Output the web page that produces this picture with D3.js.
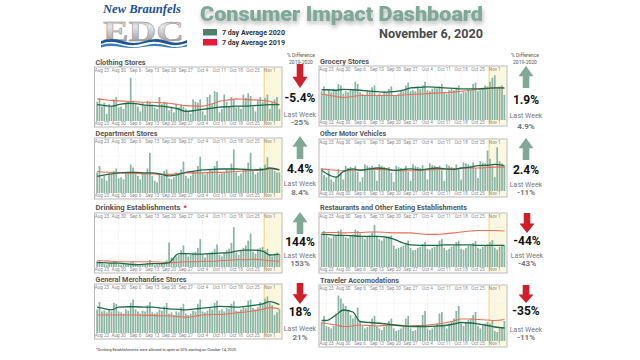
<!DOCTYPE html>
<html><head><meta charset="utf-8">
<script src="https://cdn.jsdelivr.net/npm/d3@7"></script>
<style>body{margin:0;background:#fff}svg{display:block}</style>
</head><body>
<svg id="c" width="640" height="360"></svg>
<script>
// ---------- DATA ----------
const tickLabels = ["Aug 23","Aug 30","Sep 6","Sep 13","Sep 20","Sep 27","Oct 4","Oct 11","Oct 18","Oct 25","Nov 1"];
const lineDates = ["Aug 21","Aug 23","Aug 27","Aug 30","Sep 3","Sep 6","Sep 10","Sep 13","Sep 17","Sep 20","Sep 24","Sep 27","Oct 1","Oct 4","Oct 8","Oct 11","Oct 15","Oct 18","Oct 22","Oct 25","Oct 29","Nov 1","Nov 5"];
const highlightStart = "Oct 30";

const panelNames = ["Clothing Stores","Department Stores","Drinking Establishments","General Merchandise Stores",
                    "Grocery Stores","Other Motor Vehicles","Restaurants and Other Eating Establishments","Traveler Accomodations"];
const diffLabels = ["-5.4%","4.4%","144%","18%","1.9%","2.4%","-44%","-35%"];
const lastWeekLabels = ["-25%","8.4%","153%","21%","4.9%","-11%","-43%","-11%"];
const diffUp = [false,true,true,false,true,true,false,false];

// daily values, Aug 21 .. Nov 5 (index of panel height)
const clothingBars = [40,48,30,38,15,35,30, 45,50,28,30,25,38,40, 90,42,35,30,20,38,32, 42,40,35,28,25,50,35,
  40,38,22,30,18,35,28, 35,30,25,20,15,45,40, 38,45,20,12,50,55,35, 62,60,18,25,55,40,30, 50,45,28,30,25,55,48,
  58,52,30,20,45,50,40, 48,55,25,40,45,50,25];
const departmentBars = [42,55,30,35,25,40,38, 45,50,30,32,28,40,42, 58,52,40,35,28,42,40, 50,82,35,25,22,38,36,
  45,48,30,28,32,42,40, 48,64,35,30,35,45,42, 55,74,40,38,42,48,45, 55,65,38,40,42,48,46, 60,89,42,35,40,50,48,
  62,82,45,38,42,52,50, 58,73,48,50,45,42,42];
const drinkingBars = [12,14,8,6,5,8,9, 12,10,6,5,7,6,8, 10,12,8,5,4,5,6, 8,15,6,4,5,6,7,
  10,14,51,20,18,22,25, 35,45,28,22,25,30,32, 40,58,25,20,28,30,32, 38,47,25,22,30,35,38, 50,83,30,25,35,40,45,
  55,70,32,28,38,40,42, 35,38,25,22,28,30,27];
const generalBars = [55,72,50,52,48,55,50, 70,68,50,48,45,55,52, 70,78,55,50,45,52,50, 65,72,48,45,48,55,52,
  62,70,45,48,42,50,48, 60,68,45,42,45,52,50, 68,78,50,48,52,58,55, 70,75,52,55,50,58,56, 68,74,52,50,55,60,58,
  75,78,58,55,60,72,68, 80,85,70,65,42,48,55];
const groceryBars = [60,70,55,62,58,65,62, 75,72,55,60,58,65,62, 80,75,58,55,52,62,60, 68,72,50,55,52,60,58,
  65,70,50,52,55,62,60, 72,78,60,62,60,70,65, 72,80,62,60,65,68,66, 70,75,58,55,62,65,62, 68,72,55,60,58,64,62,
  75,78,60,62,65,72,70, 80,88,93,65,70,72,52];
const motorBars = [50,35,30,45,25,20,30, 48,40,25,55,50,52,48, 55,42,20,30,58,55,52, 55,45,22,58,55,52,50,
  52,40,20,55,52,50,48, 55,42,22,58,54,52,50, 56,45,25,60,56,55,52, 55,45,22,58,55,52,50, 58,48,25,62,60,58,55,
  62,50,28,65,62,60,88, 70,55,30,95,65,60,55];
const restaurantBars = [70,75,68,62,60,65,66, 75,78,65,62,60,66,68, 78,75,70,62,58,64,66, 72,88,65,58,55,60,62,
  64,66,45,38,40,42,45, 50,55,40,35,36,40,42, 48,52,38,36,40,42,44, 55,58,40,35,38,42,45, 52,55,38,36,40,44,45,
  50,54,40,38,42,45,47, 52,56,40,36,42,44,45];
const travelerBars = [38,50,30,28,25,30,55, 91,85,75,70,60,52,45, 50,67,40,30,25,28,30, 45,50,30,25,22,28,30,
  40,45,25,20,22,25,28, 45,50,25,20,22,28,30, 52,60,25,22,25,30,35, 55,58,30,25,35,40,45, 60,70,35,30,38,42,45,
  52,58,30,25,32,35,38, 35,40,20,18,25,28,40];

// 7 day averages read at lineDates
const clothing2020 = [34,33,31,34,37,36,33,32,31,29,25,20,22,24,27,29,30,31,31,32,33,34,34];
const clothing2019 = [46,45,43,42,41,40,39,39,38,37,34,32,31,31,36,41,44,46,45,44,43,41,34];
const department2020 = [34,36,39,41,42,42,41,41,38,35,38,42,45,47,48,49,49,49,48,47,48,51,47];
const department2019 = [44,43,42,41,40,40,39,39,38,38,40,41,41,41,42,42,43,44,45,46,47,49,47];
const drinking2020 = [9,9,8,8,6,5,6,7,7,9,28,28,27,27,28,29,30,33,35,35,33,25,27];
const drinking2019 = [13,13,12,11,11,11,11,11,10,9,10,11,11,12,12,13,14,15,15,16,15,13,12];
const general2020 = [60,58,54,60,61,61,60,60,58,56,55,54,56,58,60,62,61,60,62,64,68,73,66];
const general2019 = [42,42,42,42,42,42,41,41,40,40,38,37,39,42,43,43,45,47,49,51,55,59,56];
const grocery2020 = [63,63,62,64,63,62,60,59,58,59,62,67,68,69,68,67,66,65,65,65,66,67,67];
const grocery2019 = [53,52,49,47,49,51,51,51,51,51,52,53,54,55,56,57,58,60,62,64,66,67,66];
const motor2020 = [45,38,30,42,48,45,48,50,48,45,47,48,46,48,50,48,47,50,52,55,56,58,55];
const motor2019 = [48,47,45,44,45,46,47,47,46,45,44,44,45,46,47,48,48,49,50,50,51,52,52];
const restaurant2020 = [68,68,66,66,65,64,64,64,62,58,50,46,45,45,45,46,46,46,46,45,45,45,45];
const restaurant2019 = [72,72,72,71,72,72,73,73,72,71,71,71,69,68,68,69,71,73,75,76,76,76,75];
const traveler2020 = [41,41,52,62,58,39,37,36,34,32,30,29,29,29,30,31,34,37,36,34,31,28,26];
const traveler2019 = [36,35,32,29,30,32,31,30,31,32,31,30,31,32,34,36,40,44,44,43,42,41,43];

const barSeries = [clothingBars,departmentBars,drinkingBars,generalBars,groceryBars,motorBars,restaurantBars,travelerBars];
const avg2020 = [clothing2020,department2020,drinking2020,general2020,grocery2020,motor2020,restaurant2020,traveler2020];
const avg2019 = [clothing2019,department2019,drinking2019,general2019,grocery2019,motor2019,restaurant2019,traveler2019];

// ---------- LAYOUT ----------
const layout = [
  {x0:94.5,x1:282, top:67, bot:127, ty:65,  mx:300, a0:64, a1:88,  vy:102, ly:117, lvy:125, tl:50},
  {x0:94.5,x1:282, top:138,bot:199, ty:136, mx:300, a0:136,a1:159, vy:173, ly:186, lvy:195, tl:62},
  {x0:94.5,x1:282, top:213,bot:273, ty:210, mx:300, a0:212,a1:234, vy:246, ly:258, lvy:266, tl:85},
  {x0:94.5,x1:282, top:284,bot:339, ty:282, mx:300, a0:283,a1:304, vy:316, ly:331, lvy:340, tl:91},
  {x0:319, x1:507, top:66, bot:126, ty:64,  mx:526, a0:66, a1:88,  vy:104, ly:118, lvy:129, tl:49},
  {x0:319, x1:507, top:139,bot:197, ty:136, mx:526, a0:138,a1:160, vy:174, ly:187, lvy:195, tl:66},
  {x0:319, x1:507, top:213,bot:273, ty:210, mx:527, a0:213,a1:233, vy:245, ly:258, lvy:266, tl:147},
  {x0:319, x1:507, top:285,bot:347, ty:283, mx:526, a0:285,a1:303, vy:315, ly:332, lvy:340, tl:79}
];

const C = {bar:"#8cb5a3", g:"#1e6a47", r:"#ea6f5a", up:"#7fa897", down:"#cf2029", title:"#7ea897"};
const FONT = "Roboto, 'Open Sans', sans-serif";

const svg = d3.select("#c");
const defs = svg.append("defs");
const grad = defs.append("linearGradient").attr("id","edc").attr("x1",0).attr("y1",0).attr("x2",0).attr("y2",1);
grad.append("stop").attr("offset","0%").attr("stop-color","#9a9a9a");
grad.append("stop").attr("offset","35%").attr("stop-color","#e6e6e6");
grad.append("stop").attr("offset","70%").attr("stop-color","#b5b5b5");
grad.append("stop").attr("offset","100%").attr("stop-color","#7c7c7c");
const sh = defs.append("filter").attr("id","sh").attr("x","-10%").attr("y","-30%").attr("width","120%").attr("height","180%");
sh.append("feDropShadow").attr("dx",1).attr("dy",3).attr("stdDeviation",2).attr("flood-color","#777").attr("flood-opacity",0.55);

// ---------- HEADER ----------
svg.append("text").attr("x",103).attr("y",12.5).attr("font-family","'Liberation Serif', serif")
  .attr("font-style","italic").attr("font-weight",700).attr("font-size",11.5).attr("fill","#1d4f9a")
  .attr("textLength",78).attr("lengthAdjust","spacingAndGlyphs").text("New Braunfels");
svg.append("text").attr("x",103).attr("y",40.5).attr("font-family","'Liberation Serif', serif")
  .attr("font-weight",700).attr("font-size",28.5).attr("fill","url(#edc)").attr("stroke","#8a8a8a").attr("stroke-width",0.4)
  .attr("textLength",81).attr("lengthAdjust","spacingAndGlyphs").text("EDC");
svg.append("path").attr("fill","#1f5596")
  .attr("d","M101,41 Q112,37 123,41 T145,41 T167,41 T187,40 L187,43 Q176,47 165,43.5 T143,43.5 T121,43.5 T101,44 Z");
svg.append("path").attr("fill","#3a7cc0")
  .attr("d","M101,45 Q112,42 123,45.5 T145,45.5 T167,45.5 T187,44.5 L187,46.5 Q176,49 165,47 T143,47 T121,47 T101,47.5 Z");

svg.append("text").attr("x",200).attr("y",21).attr("font-family",FONT).attr("font-weight",900)
  .attr("font-size",21).attr("fill",C.title).attr("filter","url(#sh)")
  .attr("textLength",283).attr("lengthAdjust","spacingAndGlyphs").text("Consumer Impact Dashboard");

const legendItems = [["7 day Average 2020","#4e8068",29],["7 day Average 2019","#e8173d",39]];
legendItems.forEach(([t,c,y])=>{
  svg.append("rect").attr("x",203).attr("y",y).attr("width",14).attr("height",6.5).attr("fill",c);
  svg.append("text").attr("x",222).attr("y",y+6).attr("font-family",FONT).attr("font-weight",700)
    .attr("font-size",6.5).attr("fill","#333").attr("textLength",63).attr("lengthAdjust","spacingAndGlyphs").text(t);
});
svg.append("text").attr("x",379).attr("y",38).attr("font-family",FONT).attr("font-weight",700)
  .attr("font-size",13).attr("fill","#4a4a4a").attr("textLength",104).attr("lengthAdjust","spacingAndGlyphs")
  .text("November 6, 2020");

[301,525].forEach(cx=>{
  svg.append("text").attr("x",cx).attr("y",57).attr("text-anchor","middle").attr("font-family",FONT)
    .attr("font-size",5).attr("fill","#555").text("% Difference");
  svg.append("text").attr("x",cx).attr("y",64).attr("text-anchor","middle").attr("font-family",FONT)
    .attr("font-size",5).attr("fill","#555").text("2019-2020");
});

// ---------- PANELS ----------
const parse = s => +d3.timeParse("%b %d %Y")(s+" 2020");
const days = d3.timeDay.range(new Date(2020,7,21), new Date(2020,10,6)).map(d=>+d);
const tickVals = tickLabels.map(parse);
const labelOf = new Map(tickVals.map((v,i)=>[v,tickLabels[i]]));
const lineX = lineDates.map(parse);

layout.forEach((L,pi)=>{
  const g = svg.append("g");
  const x = d3.scaleBand().domain(days).range([L.x0+1.5, L.x1-1.5]).paddingInner(0.28).paddingOuter(0.1);
  const y = d3.scaleLinear().domain([0,100]).range([L.bot-6, L.top+6]);
  const cxOf = v => x(v) + x.bandwidth()/2;

  // title
  g.append("text").attr("x",95.5 + (L.x0>300?224.5:0)).attr("y",L.ty).attr("font-family",FONT).attr("font-weight",700)
    .attr("font-size",7.5).attr("fill","#555").attr("textLength",L.tl).attr("lengthAdjust","spacingAndGlyphs")
    .text(panelNames[pi]);
  if (pi===2) g.append("text").attr("x",95.5+L.tl+3).attr("y",L.ty).attr("font-family",FONT).attr("font-weight",700)
    .attr("font-size",7.5).attr("fill","#d3202f").text("*");

  // box
  g.append("rect").attr("x",L.x0).attr("y",L.top).attr("width",L.x1-L.x0).attr("height",L.bot-L.top)
    .attr("fill","#fff");
  // highlight
  const hx = x(parse(highlightStart));
  g.append("rect").attr("x",hx).attr("y",L.top+0.5).attr("width",L.x1-0.5-hx).attr("height",L.bot-L.top-1)
    .attr("fill","#fcf8df");
  // grid
  g.append("g").selectAll("line").data(tickVals).join("line")
    .attr("x1",cxOf).attr("x2",cxOf).attr("y1",L.top+6).attr("y2",L.bot-6)
    .attr("stroke","#ececec").attr("stroke-width",0.5);
  [25,50,75].forEach(v=>g.append("line").attr("x1",L.x0).attr("x2",L.x1).attr("y1",y(v)).attr("y2",y(v))
    .attr("stroke","#f1f1f1").attr("stroke-width",0.5));
  g.append("line").attr("x1",hx).attr("x2",hx).attr("y1",L.top+0.5).attr("y2",L.bot-0.5)
    .attr("stroke","#f1d36a").attr("stroke-width",1);

  // bars
  g.append("g").selectAll("rect").data(barSeries[pi]).join("rect")
    .attr("x",(d,i)=>x(days[i])).attr("width",x.bandwidth())
    .attr("y",d=>y(d)).attr("height",d=>y(0)-y(d)).attr("fill",C.bar);

  // lines
  const line = d3.line().x((d,i)=>cxOf(lineX[i]) ).y(d=>y(d)).curve(d3.curveMonotoneX);
  g.append("path").attr("d",line(avg2019[pi])).attr("fill","none").attr("stroke",C.r).attr("stroke-width",1.1);
  g.append("path").attr("d",line(avg2020[pi])).attr("fill","none").attr("stroke",C.g).attr("stroke-width",1.3);

  // axes
  const fmt = v => labelOf.get(v);
  const at = g.append("g").attr("transform",`translate(0,${L.top+5})`)
    .call(d3.axisTop(x).tickValues(tickVals).tickFormat(fmt).tickSize(0).tickPadding(0));
  const ab = g.append("g").attr("transform",`translate(0,${L.bot-5.5})`)
    .call(d3.axisBottom(x).tickValues(tickVals).tickFormat(fmt).tickSize(0).tickPadding(0.5));
  [at,ab].forEach(a=>{
    a.select(".domain").remove();
    a.selectAll("text").attr("font-family",FONT).attr("font-size",4.6).attr("fill","#8a8a8a");
  });

  g.append("rect").attr("x",L.x0).attr("y",L.top).attr("width",L.x1-L.x0).attr("height",L.bot-L.top)
    .attr("fill","none").attr("stroke","#b9b9b9").attr("stroke-width",1);

  // metrics
  const cx = L.mx, t = L.a0, b = L.a1, h = (b-t)*0.47, hw = 7.5, sw = 3.3;
  let p;
  if (diffUp[pi]) p = `M${cx},${t} L${cx+hw},${t+h} L${cx+sw},${t+h} L${cx+sw},${b} L${cx-sw},${b} L${cx-sw},${t+h} L${cx-hw},${t+h} Z`;
  else p = `M${cx},${b} L${cx+hw},${b-h} L${cx+sw},${b-h} L${cx+sw},${t} L${cx-sw},${t} L${cx-sw},${b-h} L${cx-hw},${b-h} Z`;
  svg.append("path").attr("d",p).attr("fill",diffUp[pi]?C.up:C.down);
  svg.append("text").attr("x",cx).attr("y",L.vy).attr("text-anchor","middle").attr("font-family",FONT)
    .attr("font-weight",700).attr("font-size",12).attr("fill","#111").text(diffLabels[pi]);
  svg.append("text").attr("x",cx).attr("y",L.ly).attr("text-anchor","middle").attr("font-family",FONT)
    .attr("font-size",7).attr("fill","#777").text("Last Week");
  svg.append("text").attr("x",cx).attr("y",L.lvy).attr("text-anchor","middle").attr("font-family",FONT)
    .attr("font-weight",700).attr("font-size",8).attr("fill","#777").text(lastWeekLabels[pi]);
});

// footnote
const fn = svg.append("text").attr("x",96).attr("y",351).attr("font-family",FONT).attr("font-size",4.4)
  .attr("fill","#333").attr("textLength",141).attr("lengthAdjust","spacingAndGlyphs");
fn.append("tspan").attr("fill","#d3202f").attr("font-weight",700).text("*");
fn.append("tspan").text("Drinking Establishments were allowed to open at 50% starting on October 14, 2020.");
</script>
</body></html>
